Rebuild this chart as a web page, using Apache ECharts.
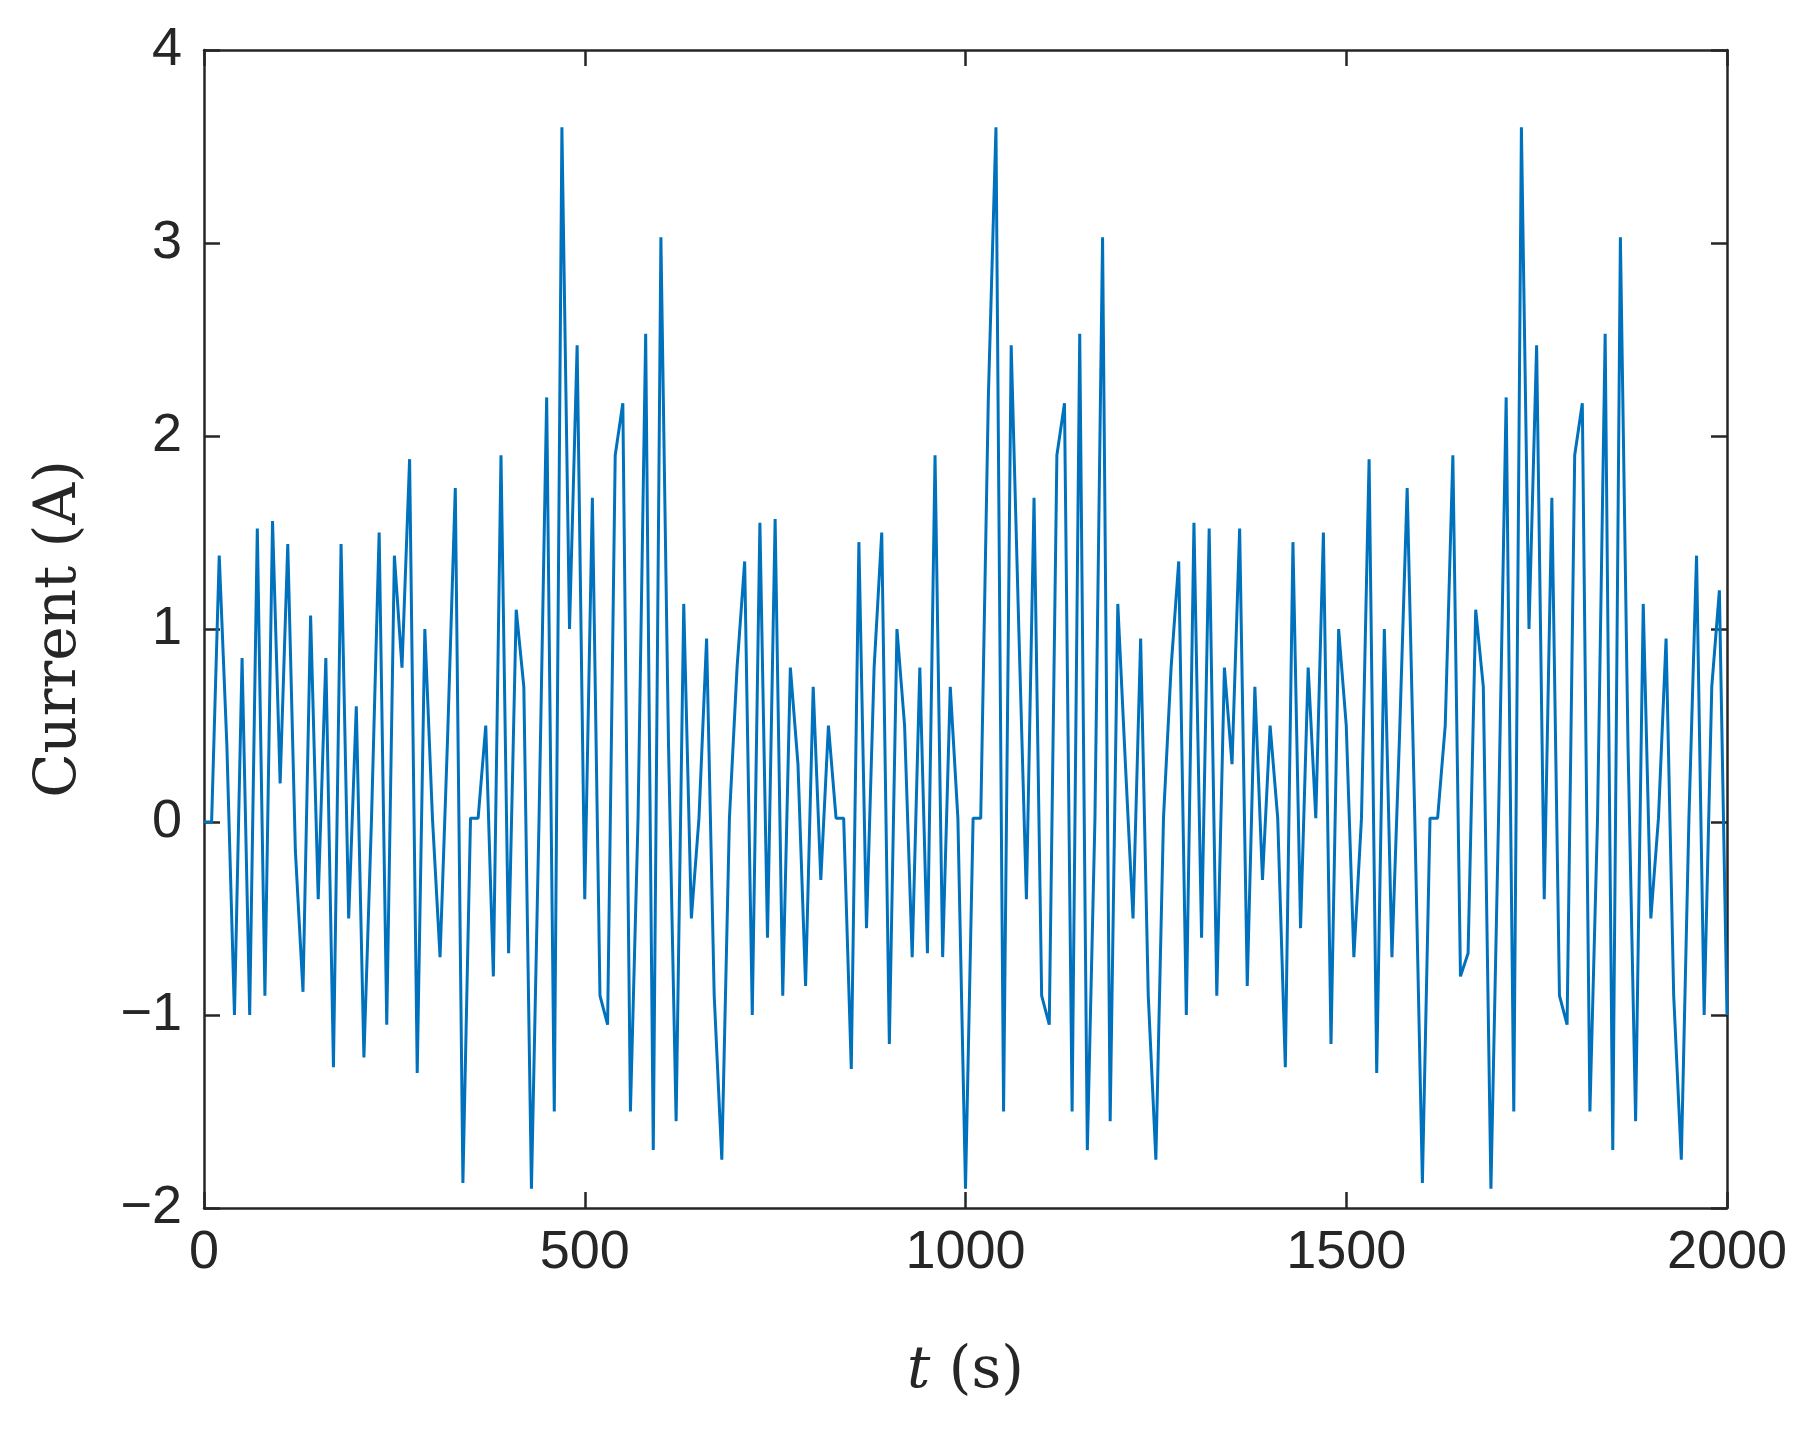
<!DOCTYPE html>
<html><head><meta charset="utf-8">
<script src="https://cdn.jsdelivr.net/npm/echarts@6/dist/echarts.min.js"></script>
<style>html,body{margin:0;padding:0;background:#fff}#c{width:1816px;height:1435px}</style>
</head><body><div id="c"></div>
<script>
const tStep = 10;
const current = [
0,0,1.38,0.4,-1.0,0.85,-1.0,1.52,-0.9,1.56,
0.2,1.44,-0.15,-0.88,1.07,-0.4,0.85,-1.27,1.44,-0.5,
0.6,-1.22,0.02,1.5,-1.05,1.38,0.8,1.88,-1.3,1.0,
0.02,-0.7,0.45,1.73,-1.87,0.02,0.02,0.5,-0.8,1.9,
-0.68,1.1,0.7,-1.9,0.02,2.2,-1.5,3.6,1.0,2.47,
-0.4,1.68,-0.9,-1.05,1.9,2.17,-1.5,0.02,2.53,-1.7,
3.03,0.4,-1.55,1.13,-0.5,0.02,0.95,-0.9,-1.75,0.02,
0.8,1.35,-1.0,1.55,-0.6,1.57,-0.9,0.8,0.3,-0.85,
0.7,-0.3,0.5,0.02,0.02,-1.28,1.45,-0.55,0.8,1.5,
-1.15,1.0,0.5,-0.7,0.8,-0.68,1.9,-0.7,0.7,0.02,
-1.9,0.02,0.02,2.2,3.6,-1.5,2.47,1.0,-0.4,1.68,
-0.9,-1.05,1.9,2.17,-1.5,2.53,-1.7,0.02,3.03,-1.55,
1.13,0.3,-0.5,0.95,-0.9,-1.75,0.02,0.8,1.35,-1.0,
1.55,-0.6,1.52,-0.9,0.8,0.3,1.52,-0.85,0.7,-0.3,
0.5,0.02,-1.27,1.45,-0.55,0.8,0.02,1.5,-1.15,1.0,
0.5,-0.7,0.02,1.88,-1.3,1.0,-0.7,0.45,1.73,0.02,
-1.87,0.02,0.02,0.5,1.9,-0.8,-0.68,1.1,0.7,-1.9,
0.02,2.2,-1.5,3.6,1.0,2.47,-0.4,1.68,-0.9,-1.05,
1.9,2.17,-1.5,0.02,2.53,-1.7,3.03,0.4,-1.55,1.13,
-0.5,0.02,0.95,-0.9,-1.75,0.02,1.38,-1.0,0.7,1.2,
-1.0
];
const xTicks = [0,500,1000,1500,2000];
const yTicks = [-2,-1,0,1,2,3,4];
const data = current.map((v,i)=>[i*tStep,v]);
const lbl = {fontFamily:'Liberation Sans, Arial',fontSize:54,color:'#262626'};
const line = {onZero:false,lineStyle:{color:'#262626',width:2.5}};
const tick = {inside:true,length:16,lineStyle:{color:'#262626',width:2.5}};
const chart = echarts.init(document.getElementById('c'));
chart.setOption({
  animation:false,
  grid:{left:204,right:89,top:50,bottom:227},
  xAxis:[
    {type:'value',min:0,max:2000,interval:500,axisLine:line,axisTick:tick,splitLine:{show:false},
     axisLabel:Object.assign({margin:18,formatter:v=>String(v)},lbl),
     name:'{i|t} (s)',nameLocation:'middle',nameGap:135,
     nameTextStyle:{fontFamily:'DejaVu Serif, serif',fontSize:58,color:'#262626',rich:{i:{fontFamily:'DejaVu Serif, serif',fontStyle:'italic',fontSize:58,color:'#262626'}}}},
    {type:'value',position:'top',min:0,max:2000,interval:500,axisLine:line,axisTick:tick,axisLabel:{show:false},splitLine:{show:false}}
  ],
  yAxis:[
    {type:'value',min:-2,max:4,interval:1,axisLine:line,axisTick:tick,splitLine:{show:false},
     axisLabel:Object.assign({margin:22,formatter:v=>v<0?'\u2212'+(-v):String(v)},lbl),
     name:'Current (A)',nameLocation:'middle',nameGap:115,
     nameTextStyle:{fontFamily:'DejaVu Serif, serif',fontSize:58,color:'#262626'}},
    {type:'value',position:'right',min:-2,max:4,interval:1,axisLine:line,axisTick:tick,axisLabel:{show:false},splitLine:{show:false}}
  ],
  series:[{type:'line',data:data,showSymbol:false,lineStyle:{color:'#0072BD',width:3}}]
});
</script></body></html>
